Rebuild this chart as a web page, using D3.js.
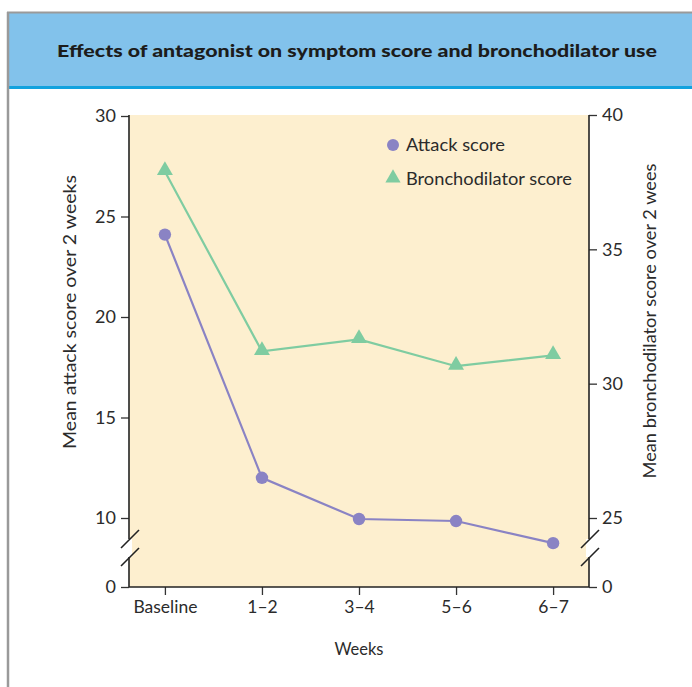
<!DOCTYPE html>
<html><head><meta charset="utf-8">
<script src="https://cdn.jsdelivr.net/npm/d3@7"></script>
<style>
html,body{margin:0;padding:0;background:#fff;}
svg{display:block;}
text{font-family:Lato,"Open Sans",sans-serif;fill:#2b2b2b;}
</style></head>
<body><div id="chart"></div>
<script>
const title = "Effects of antagonist on symptom score and bronchodilator use";
const categories = ["Baseline","1–2","3–4","5–6","6–7"];
const attackScore = [24.1, 12.0, 9.95, 9.85, 8.75];
const bronchoScore = [37.9, 31.2, 31.65, 30.65, 31.05];
const leftTicks = [0, 10, 15, 20, 25, 30];
const rightTicks = [0, 25, 30, 35, 40];
const seriesNames = ["Attack score", "Bronchodilator score"];
const xTitle = "Weeks";
const yLeftTitle = "Mean attack score over 2 weeks";
const yRightTitle = "Mean bronchodilator score over 2 wees";

const W = 692, H = 687;
const plot = {left:129, right:589, top:115, bottom:587};
const cPurple = "#8a83c4", cGreen = "#7fcca1";

const svg = d3.select("#chart").append("svg").attr("width", W).attr("height", H);

// frame + header
svg.append("rect").attr("x",8).attr("y",13).attr("width",W-8).attr("height",74).attr("fill","#82c2eb");
svg.append("rect").attr("x",8).attr("y",86).attr("width",W-8).attr("height",3).attr("fill","#12a2de");
svg.append("line").attr("x1",7).attr("x2",W).attr("y1",12.5).attr("y2",12.5).attr("stroke","#9a9a9a").attr("stroke-width",2);
svg.append("line").attr("x1",8).attr("x2",8).attr("y1",12).attr("y2",H).attr("stroke","#9a9a9a").attr("stroke-width",2.5);
svg.append("text").attr("x",357).attr("y",57).attr("text-anchor","middle")
  .attr("textLength",600).attr("lengthAdjust","spacingAndGlyphs")
  .style("font-weight",900).style("font-size","17px").style("fill","#1c1c1c").text(title);

// scales
const x = d3.scalePoint().domain(categories).range([plot.left, plot.right]).padding(0.37);
const yL = d3.scaleLinear().domain([10,30]).range([518,116]);
const yR = d3.scaleLinear().domain([25,40]).range([518,115]);
// axis scales with broken segment down to 0
const yLAxis = d3.scaleLinear().domain([0,10,30]).range([plot.bottom,518,116]);
const yRAxis = d3.scaleLinear().domain([0,25,40]).range([plot.bottom,518,115]);

// background
svg.append("rect").attr("x",plot.left).attr("y",plot.top).attr("width",plot.right-plot.left)
  .attr("height",plot.bottom-plot.top).attr("fill","#fdefcf");

// axes
const axStyle = g => {
  g.selectAll(".domain").remove();
  g.selectAll(".tick line").attr("stroke","#333").attr("stroke-width",1.3);
  g.selectAll(".tick text").style("font-size","18px").style("font-family","Lato, sans-serif").attr("fill","#2b2b2b");
};
svg.append("g").attr("transform",`translate(${plot.left},0)`)
  .call(d3.axisLeft(yLAxis).tickValues(leftTicks).tickSize(8).tickPadding(5).tickFormat(d3.format("d")))
  .call(axStyle);
svg.append("g").attr("transform",`translate(${plot.right},0)`)
  .call(d3.axisRight(yRAxis).tickValues(rightTicks).tickSize(8).tickPadding(5).tickFormat(d3.format("d")))
  .call(axStyle);
svg.append("g").attr("transform",`translate(0,${plot.bottom})`)
  .call(d3.axisBottom(x).tickSize(8).tickPadding(6))
  .call(axStyle)
  .call(g=>g.selectAll(".tick text").style("font-size","17.5px"));

// axis lines with breaks
const axLine = (x1,y1,x2,y2)=>svg.append("line").attr("x1",x1).attr("y1",y1).attr("x2",x2).attr("y2",y2)
  .attr("stroke","#222").attr("stroke-width",1.6);
const breakTop = 539, breakBot = 557;
[plot.left, plot.right].forEach(ax=>{
  svg.append("rect").attr("x",ax-3).attr("y",breakTop).attr("width",6).attr("height",breakBot-breakTop).attr("fill","#fff");
  axLine(ax, plot.top, ax, breakTop);
  axLine(ax, breakBot, ax, plot.bottom);
  axLine(ax-8, 548, ax+10, 530);
  axLine(ax-8, 566, ax+10, 548);
});
axLine(plot.left, plot.bottom, plot.right, plot.bottom);

// lines
const lineG = d3.line().x((d,i)=>x(categories[i])).y(d=>yR(d));
const lineP = d3.line().x((d,i)=>x(categories[i])).y(d=>yL(d));
svg.append("path").datum(bronchoScore).attr("d",lineG).attr("fill","none").attr("stroke",cGreen).attr("stroke-width",2.2);
svg.append("path").datum(attackScore).attr("d",lineP).attr("fill","none").attr("stroke",cPurple).attr("stroke-width",2.2);

const tri = d3.symbol().type(d3.symbolTriangle).size(110);
svg.selectAll(".tri").data(bronchoScore).enter().append("path")
  .attr("transform",(d,i)=>`translate(${x(categories[i])},${yR(d)-1})`).attr("d",tri).attr("fill",cGreen);
svg.selectAll(".dot").data(attackScore).enter().append("circle")
  .attr("cx",(d,i)=>x(categories[i])).attr("cy",d=>yL(d)).attr("r",6.2).attr("fill",cPurple);

// legend
svg.append("circle").attr("cx",393).attr("cy",145).attr("r",6).attr("fill",cPurple);
svg.append("path").attr("transform","translate(393,178)").attr("d",d3.symbol().type(d3.symbolTriangle).size(100)).attr("fill",cGreen);
svg.append("text").attr("x",406).attr("y",151).attr("textLength",99).attr("lengthAdjust","spacingAndGlyphs").style("font-size","18px").text(seriesNames[0]);
svg.append("text").attr("x",406).attr("y",185).attr("textLength",166).attr("lengthAdjust","spacingAndGlyphs").style("font-size","18px").text(seriesNames[1]);

// axis titles
svg.append("text").attr("x",359).attr("y",655).attr("text-anchor","middle").attr("textLength",49).attr("lengthAdjust","spacingAndGlyphs").style("font-size","17px").text(xTitle);
svg.append("text").attr("transform","translate(76,312) rotate(-90)").attr("text-anchor","middle")
  .attr("textLength",274).attr("lengthAdjust","spacingAndGlyphs").style("font-size","18px").text(yLeftTitle);
svg.append("text").attr("transform","translate(656,321) rotate(-90)").attr("text-anchor","middle")
  .attr("textLength",315).attr("lengthAdjust","spacingAndGlyphs").style("font-size","18px").text(yRightTitle);
</script></body></html>
